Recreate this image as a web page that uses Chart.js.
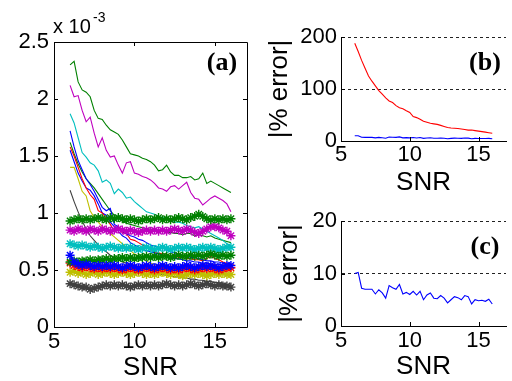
<!DOCTYPE html>
<html>
<head>
<meta charset="utf-8">
<script src="https://cdn.jsdelivr.net/npm/chart.js@4.4.1/dist/chart.umd.min.js"></script>
<style>
body { margin: 0; background: #fff; }
#wrap { position: relative; width: 512px; height: 381px; overflow: hidden; }
canvas { position: absolute; }
</style>
</head>
<body>
<div id="wrap">
<canvas id="chartA" width="260" height="381" style="left:0;top:0"></canvas>
<canvas id="chartB" width="252" height="200" style="left:260px;top:0"></canvas>
<canvas id="chartC" width="252" height="186" style="left:260px;top:195px"></canvas>
</div>
<script>
// SNR sample points (same for all three panels)
var snr = [6, 6.25, 6.5, 6.75, 7, 7.25, 7.5, 7.75, 8, 8.25, 8.5, 8.75, 9, 9.25, 9.5, 9.75, 10, 10.25, 10.5, 10.75,
    11, 11.25, 11.5, 11.75, 12, 12.25, 12.5, 12.75, 13, 13.25, 13.5, 13.75, 14, 14.25, 14.5, 14.75, 15, 15.25, 15.5, 15.75, 16];
var snrTicks = [5, 10, 15];

// panel (a), values in units of 1e-3
var aTicks = [0, 0.5, 1, 1.5, 2, 2.5];
var lineGreen = [2.30, 2.33, 2.15, 2.08, 2.06, 2.02, 1.90, 1.83, 1.82, 1.77, 1.73, 1.71, 1.69, 1.64, 1.58, 1.52, 1.51, 1.50, 1.48, 1.47,
    1.45, 1.42, 1.37, 1.38, 1.42, 1.36, 1.33, 1.33, 1.31, 1.31, 1.32, 1.29, 1.30, 1.35, 1.26, 1.28, 1.26, 1.24, 1.22, 1.20, 1.18];
var lineMagenta = [2.12, 2.02, 2.03, 1.90, 1.80, 1.84, 1.70, 1.58, 1.66, 1.55, 1.49, 1.50, 1.42, 1.35, 1.44, 1.45, 1.35, 1.34, 1.32, 1.31,
    1.29, 1.26, 1.22, 1.21, 1.19, 1.23, 1.24, 1.21, 1.24, 1.27, 1.18, 1.13, 1.12, 1.07, 1.10, 1.13, 1.15, 1.13, 1.11, 1.08, 1.01];
var lineCyan = [1.87, 1.79, 1.66, 1.53, 1.49, 1.44, 1.42, 1.37, 1.27, 1.29, 1.26, 1.17, 1.21, 1.18, 1.13, 1.14, 1.10, 1.07, 1.04, 1.01,
    1.00, 0.99, 0.97, 0.96, 0.95, 0.93, 0.92, 0.92, 0.91, 0.89, 0.88, 0.87, 0.88, 0.86, 0.84, 0.82, 0.80, 0.78, 0.76, 0.73, 0.71];
var lineBlue1 = [1.72, 1.58, 1.46, 1.38, 1.30, 1.25, 1.19, 1.12, 1.05, 1.02, 1.04, 0.90, 0.88, 0.84, 0.82, 0.80, 0.79, 0.77, 0.76, 0.74,
    0.72, 0.71, 0.70, 0.69, 0.68, 0.66, 0.65, 0.64, 0.63, 0.62, 0.61, 0.61, 0.60, 0.59, 0.58, 0.58, 0.57, 0.57, 0.56, 0.55, 0.55];
var lineRed = [1.58, 1.50, 1.40, 1.30, 1.22, 1.16, 1.12, 1.02, 1.00, 0.95, 0.90, 0.84, 0.86, 0.83, 0.82, 0.77, 0.76, 0.74, 0.72, 0.70,
    0.68, 0.66, 0.65, 0.64, 0.64, 0.62, 0.63, 0.61, 0.61, 0.60, 0.60, 0.59, 0.59, 0.58, 0.60, 0.62, 0.60, 0.59, 0.57, 0.56, 0.55];
var lineGreen2 = [1.62, 1.52, 1.43, 1.36, 1.30, 1.26, 1.22, 1.17, 1.12, 1.07, 1.02, 0.98, 0.96, 0.93, 0.91, 0.90, 0.89, 0.88, 0.87, 0.86,
    0.86, 0.85, 0.84, 0.84, 0.83, 0.83, 0.82, 0.82, 0.81, 0.82, 0.82, 0.80, 0.81, 0.80, 0.79, 0.80, 0.78, 0.77, 0.76, 0.75, 0.74];
var lineBlue2 = [1.55, 1.45, 1.35, 1.28, 1.22, 1.20, 1.15, 1.08, 1.00, 0.98, 0.92, 0.88, 0.84, 0.80, 0.78, 0.74, 0.72, 0.70, 0.68, 0.67,
    0.66, 0.65, 0.64, 0.63, 0.62, 0.61, 0.60, 0.60, 0.59, 0.58, 0.58, 0.57, 0.57, 0.56, 0.56, 0.55, 0.55, 0.55, 0.54, 0.54, 0.54];
var lineYellow = [1.40, 1.40, 1.30, 1.19, 1.15, 1.02, 0.96, 0.92, 0.88, 0.85, 0.82, 0.79, 0.76, 0.73, 0.70, 0.67, 0.64, 0.62, 0.60, 0.58,
    0.56, 0.55, 0.54, 0.53, 0.52, 0.52, 0.51, 0.50, 0.50, 0.49, 0.49, 0.48, 0.48, 0.48, 0.47, 0.47, 0.47, 0.46, 0.46, 0.46, 0.45];
var lineGray = [1.20, 1.10, 1.01, 0.93, 0.86, 0.80, 0.76, 0.72, 0.69, 0.66, 0.63, 0.61, 0.59, 0.57, 0.56, 0.54, 0.53, 0.52, 0.51, 0.50,
    0.49, 0.47, 0.46, 0.46, 0.45, 0.45, 0.44, 0.44, 0.43, 0.43, 0.42, 0.42, 0.41, 0.41, 0.40, 0.40, 0.39, 0.39, 0.38, 0.37, 0.37];

var starGreen = [0.93, 0.94, 0.95, 0.94, 0.95, 0.94, 0.95, 0.96, 0.95, 0.94, 0.96, 0.95, 0.96, 0.95, 0.94, 0.95, 0.94, 0.93, 0.94, 0.95,
    0.94, 0.95, 0.96, 0.94, 0.95, 0.94, 0.95, 0.96, 0.95, 0.94, 0.96, 0.97, 0.99, 0.97, 0.95, 0.94, 0.95, 0.94, 0.95, 0.94, 0.95];
var starMagenta = [0.85, 0.84, 0.86, 0.85, 0.84, 0.86, 0.85, 0.84, 0.86, 0.85, 0.84, 0.85, 0.86, 0.85, 0.84, 0.85, 0.84, 0.83, 0.84, 0.85,
    0.84, 0.85, 0.84, 0.85, 0.84, 0.85, 0.86, 0.85, 0.84, 0.86, 0.85, 0.83, 0.82, 0.84, 0.86, 0.88, 0.88, 0.87, 0.85, 0.84, 0.80];
var starCyan = [0.73, 0.72, 0.71, 0.72, 0.71, 0.70, 0.71, 0.70, 0.69, 0.70, 0.71, 0.70, 0.69, 0.70, 0.69, 0.70, 0.69, 0.68, 0.69, 0.70,
    0.69, 0.68, 0.69, 0.70, 0.69, 0.68, 0.69, 0.70, 0.69, 0.70, 0.69, 0.68, 0.69, 0.70, 0.69, 0.70, 0.69, 0.68, 0.69, 0.70, 0.70];
var starGreen2 = [0.57, 0.58, 0.57, 0.58, 0.58, 0.59, 0.58, 0.59, 0.59, 0.60, 0.59, 0.60, 0.60, 0.61, 0.60, 0.61, 0.60, 0.61, 0.61, 0.62,
    0.61, 0.62, 0.61, 0.62, 0.62, 0.61, 0.62, 0.63, 0.62, 0.62, 0.63, 0.62, 0.63, 0.62, 0.63, 0.64, 0.63, 0.62, 0.63, 0.62, 0.63];
var starBlue = [0.63, 0.57, 0.55, 0.54, 0.55, 0.54, 0.53, 0.54, 0.53, 0.54, 0.53, 0.54, 0.53, 0.52, 0.53, 0.54, 0.53, 0.52, 0.53, 0.54,
    0.53, 0.52, 0.53, 0.54, 0.53, 0.52, 0.53, 0.52, 0.53, 0.54, 0.53, 0.52, 0.53, 0.54, 0.53, 0.54, 0.53, 0.52, 0.53, 0.54, 0.54];
var starRed = [0.56, 0.54, 0.53, 0.52, 0.53, 0.52, 0.51, 0.52, 0.51, 0.52, 0.51, 0.52, 0.51, 0.50, 0.51, 0.52, 0.51, 0.50, 0.51, 0.52,
    0.51, 0.50, 0.51, 0.52, 0.51, 0.50, 0.51, 0.50, 0.51, 0.52, 0.51, 0.50, 0.51, 0.52, 0.51, 0.52, 0.51, 0.50, 0.51, 0.52, 0.52];
var starYellow = [0.48, 0.49, 0.47, 0.48, 0.46, 0.47, 0.48, 0.46, 0.47, 0.48, 0.47, 0.46, 0.47, 0.48, 0.47, 0.46, 0.47, 0.48, 0.47, 0.46,
    0.47, 0.46, 0.47, 0.48, 0.47, 0.46, 0.47, 0.46, 0.45, 0.46, 0.47, 0.46, 0.47, 0.46, 0.45, 0.46, 0.47, 0.46, 0.47, 0.46, 0.46];
var starGray = [0.38, 0.37, 0.36, 0.35, 0.35, 0.33, 0.34, 0.35, 0.36, 0.37, 0.36, 0.37, 0.36, 0.37, 0.36, 0.35, 0.36, 0.37, 0.36, 0.37,
    0.36, 0.37, 0.36, 0.37, 0.38, 0.37, 0.36, 0.37, 0.36, 0.37, 0.38, 0.37, 0.36, 0.37, 0.38, 0.37, 0.36, 0.37, 0.36, 0.36, 0.35];

// panels (b) and (c): |% error|
var bTicks = [0, 100, 200];
var cTicks = [0, 10, 20];
var errRed = [188, 172, 155, 140, 125, 115, 106, 97, 90, 83, 77, 74, 68, 64, 62, 58, 55, 47, 45, 42,
    38, 36, 34, 33, 32, 30, 28, 26, 25, 24.5, 24, 23, 22, 21, 21, 20, 19, 18, 17, 16, 15];
var errBlue = [10.0, 10.2, 7.2, 7.0, 7.0, 7.0, 6.1, 6.9, 6.3, 5.3, 7.7, 7.3, 7.0, 7.9, 6.1, 6.4, 6.0, 6.6, 5.9, 6.6,
    5.0, 5.9, 6.3, 5.3, 5.2, 5.8, 5.3, 4.4, 5.0, 5.6, 5.4, 5.0, 5.8, 5.6, 4.2, 5.0, 4.8, 4.9, 4.7, 5.1, 4.2];

var BLUE = '#0000ff', GREEN = '#008000', RED = '#ff0000', CYAN = '#00bfbf',
    MAGENTA = '#bf00bf', YELLOW = '#bfbf00', GRAY = '#404040';

var SANS = "'Liberation Sans', Arial, sans-serif";
var tickFont = { family: SANS, size: 22 };
var titleFont = { family: SANS, size: 26, lineHeight: 1 };

function pts(arr) {
    return arr.map(function(v, i) { return { x: snr[i], y: v }; });
}

function plain(arr, color) {
    return { data: pts(arr), borderColor: color, borderWidth: 1.1, pointRadius: 0, order: 2 };
}

function starred(arr, color) {
    return {
        data: pts(arr), borderColor: color, borderWidth: 1.5, order: 1,
        pointStyle: 'star', pointRadius: 4.5, pointBorderColor: color, pointBorderWidth: 1.4
    };
}

// inward tick marks, optional full box and the panel texts
var frame = {
    id: 'frame',
    afterDraw: function(chart, args, opts) {
        var ctx = chart.ctx, a = chart.chartArea;
        var xs = chart.scales.x, ys = chart.scales.y;
        var len = opts.tick;
        ctx.save();
        ctx.strokeStyle = '#000';
        ctx.lineWidth = 1;
        ctx.beginPath();
        if (opts.box) {
            ctx.rect(Math.round(a.left) + 0.5, Math.round(a.top) + 0.5, Math.round(a.right - a.left), Math.round(a.bottom - a.top));
        }
        xs.ticks.forEach(function(t) {
            var px = Math.round(xs.getPixelForValue(t.value)) + 0.5;
            ctx.moveTo(px, a.bottom);
            ctx.lineTo(px, a.bottom - len);
            if (opts.box) {
                ctx.moveTo(px, a.top);
                ctx.lineTo(px, a.top + len);
            }
        });
        ys.ticks.forEach(function(t) {
            var py = Math.round(ys.getPixelForValue(t.value)) + 0.5;
            ctx.moveTo(a.left, py);
            ctx.lineTo(a.left + len, py);
            if (opts.box) {
                ctx.moveTo(a.right, py);
                ctx.lineTo(a.right - len, py);
            }
        });
        ctx.stroke();
        (opts.texts || []).forEach(function(t) {
            ctx.font = t.font;
            ctx.fillStyle = '#000';
            ctx.textAlign = t.align || 'center';
            ctx.textBaseline = t.base || 'middle';
            ctx.fillText(t.text, t.x, t.y);
        });
        ctx.restore();
    }
};

function xScale(h, pad, titlePad, showBorder) {
    return {
        type: 'linear', min: 5, max: 17,
        afterBuildTicks: function(s) { s.ticks = snrTicks.map(function(v) { return { value: v }; }); },
        afterFit: function(s) { s.height = h; },
        grid: { display: false, drawTicks: false },
        border: { display: showBorder, color: '#000', width: 1 },
        ticks: { color: '#000', font: tickFont, padding: pad, maxRotation: 0, callback: function(v) { return '' + v; } },
        title: { display: true, text: 'SNR', color: '#000', font: titleFont, padding: { top: 0, bottom: titlePad } }
    };
}

function yScale(w, tickList, pad, title, titlePad, dashed) {
    return {
        type: 'linear', min: tickList[0], max: tickList[tickList.length - 1],
        afterBuildTicks: function(s) { s.ticks = tickList.map(function(v) { return { value: v }; }); },
        afterFit: function(s) { s.width = w; },
        grid: {
            display: dashed, drawTicks: false, lineWidth: 1,
            color: function(c) { return c.tick && c.tick.value === 0 ? 'rgba(0,0,0,0)' : '#222'; }
        },
        border: { display: dashed, color: '#000', width: 1, dash: [3, 3] },
        ticks: { color: '#000', font: tickFont, padding: pad, callback: function(v) { return '' + v; } },
        title: { display: !!title, text: title, color: '#000', font: titleFont, padding: { top: titlePad, bottom: 0 } }
    };
}

function baseOptions(padding, scales, frameOpts) {
    return {
        responsive: false,
        animation: false,
        devicePixelRatio: 1,
        events: [],
        layout: { padding: padding },
        elements: { line: { tension: 0, fill: false } },
        scales: scales,
        plugins: { legend: { display: false }, tooltip: { enabled: false }, frame: frameOpts }
    };
}

new Chart(document.getElementById('chartA'), {
    type: 'line',
    data: {
        datasets: [
            starred(starGreen, GREEN),
            starred(starMagenta, MAGENTA),
            starred(starBlue, BLUE),
            starred(starGreen2, GREEN),
            starred(starCyan, CYAN),
            starred(starRed, RED),
            starred(starYellow, YELLOW),
            starred(starGray, GRAY),
            plain(lineGreen, GREEN),
            plain(lineMagenta, MAGENTA),
            plain(lineCyan, CYAN),
            plain(lineBlue1, BLUE),
            plain(lineRed, RED),
            plain(lineGreen2, GREEN),
            plain(lineBlue2, BLUE),
            plain(lineYellow, YELLOW),
            plain(lineGray, GRAY)
        ]
    },
    options: baseOptions({ left: 0, top: 42, right: 13, bottom: 0 }, {
        x: xScale(54, 2, 0, false),
        y: yScale(54, aTicks, 5, '', 0, false)
    }, {
        tick: 4, box: true,
        texts: [
            { text: '(a)', font: "bold 26px 'Liberation Serif', 'Times New Roman', serif", x: 222, y: 63 },
            { text: 'x 10', font: '20px ' + SANS, x: 53, y: 33, align: 'left', base: 'alphabetic' },
            { text: '-3', font: '14px ' + SANS, x: 93, y: 22, align: 'left', base: 'alphabetic' }
        ]
    }),
    plugins: [frame]
});

new Chart(document.getElementById('chartB'), {
    type: 'line',
    data: {
        datasets: [
            { data: pts(errRed), borderColor: RED, borderWidth: 1.1, pointRadius: 0 },
            { data: pts(errBlue), borderColor: BLUE, borderWidth: 1.1, pointRadius: 0 }
        ]
    },
    options: baseOptions({ left: 0, top: 37, right: 6, bottom: 0 }, {
        x: xScale(59, 1, 4, true),
        y: yScale(81, bTicks, 4, '|% error|', 7, true)
    }, {
        tick: 4, box: false,
        texts: [{ text: '(b)', font: "bold 26px 'Liberation Serif', 'Times New Roman', serif", x: 225, y: 63 }]
    }),
    plugins: [frame]
});

new Chart(document.getElementById('chartC'), {
    type: 'line',
    data: {
        datasets: [
            { data: pts(errBlue), borderColor: BLUE, borderWidth: 1.1, pointRadius: 0 }
        ]
    },
    options: baseOptions({ left: 0, top: 26, right: 6, bottom: 0 }, {
        x: xScale(55, 2, 1, true),
        y: yScale(81, cTicks, 4, '|% error|', 17, true)
    }, {
        tick: 4, box: false,
        texts: [{ text: '(c)', font: "bold 26px 'Liberation Serif', 'Times New Roman', serif", x: 225, y: 52 }]
    }),
    plugins: [frame]
});
</script>
</body>
</html>
